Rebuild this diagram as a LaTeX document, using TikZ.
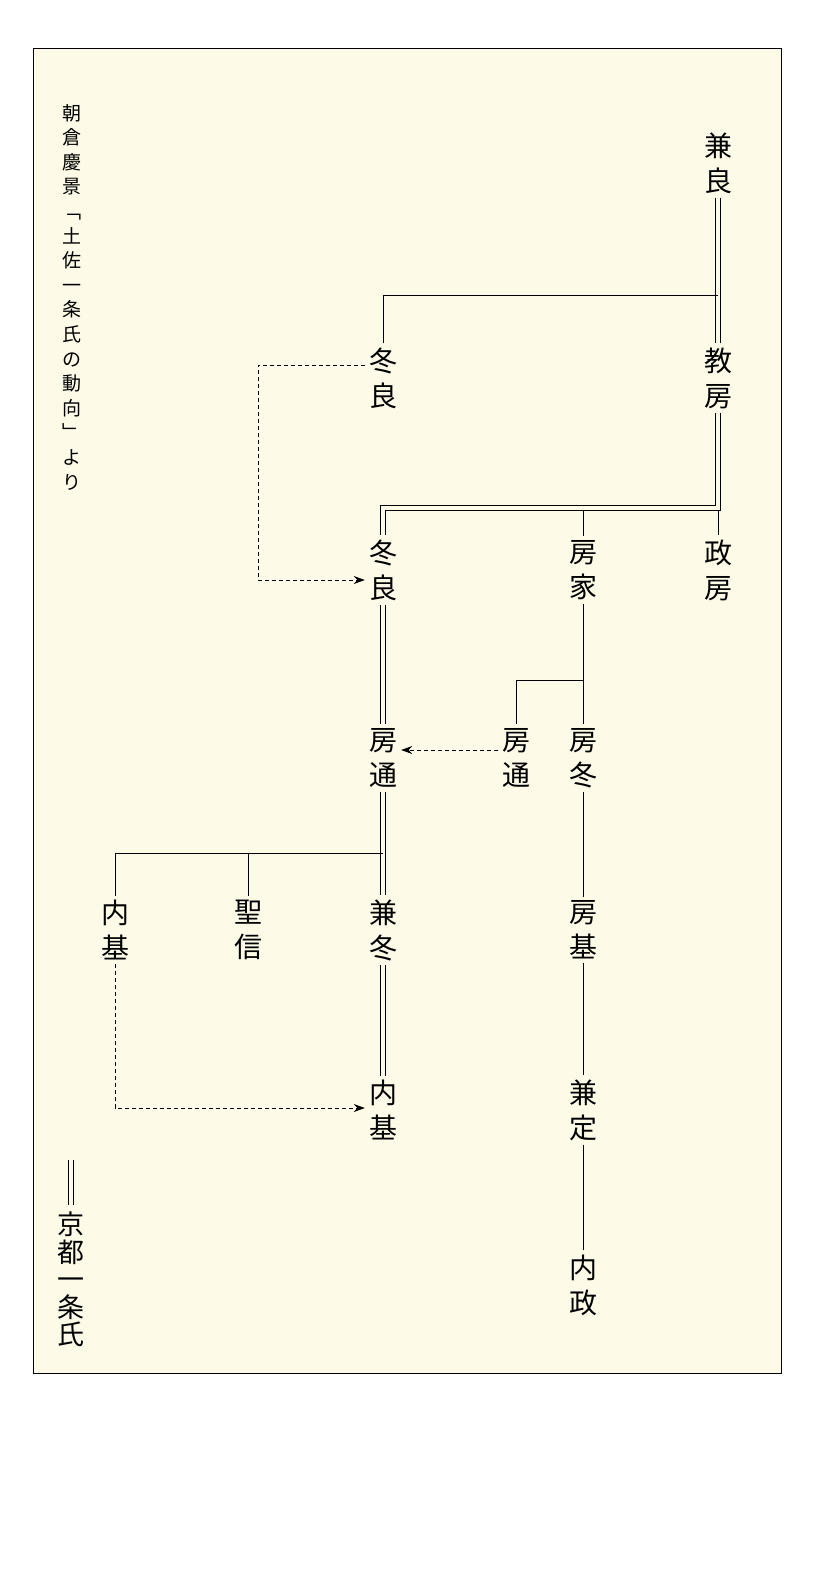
\documentclass[tikz,border=0pt]{standalone}
\usepackage{fontspec}
\setmainfont{Noto Sans CJK JP}
\usetikzlibrary{arrows.meta}
\definecolor{paper}{RGB}{253,251,231}
\tikzset{
  person/.style={inner sep=4pt, align=center, font=\fontsize{28}{35}\selectfont},
  srcnote/.style={inner sep=0pt, align=center, font=\fontsize{19}{24.6}\selectfont},
  dbl/.style={draw=black, line width=0.8pt, double=paper, double distance=3.5pt},
  sgl/.style={draw=black, line width=0.9pt},
  adop/.style={draw=black, line width=0.8pt, dash pattern=on 4pt off 3pt, -{Stealth[length=11pt,width=8pt]}}
}
\begin{document}
\begin{tikzpicture}[x=1pt,y=-1pt]
	\useasboundingbox (0,0) rectangle (832,1585);
	%frame
	\draw[fill=paper, line width=0.8pt] (33,48) rectangle (781,1373);
	%source
	\node[srcnote, anchor=north] (src) at (72,104) {朝\\倉\\慶\\景\\﹁\\土\\佐\\一\\条\\氏\\の\\動\\向\\﹂\\よ\\り};
	%people
	\node[person] (kaneyoshi) at (718,163) {兼\\良};
	\node[person] (norifusa) at (718,378) {教\\房};
	\node[person] (fuyuyoshiA) at (383,378) {冬\\良};
	\node[person] (fuyuyoshiB) at (383,570) {冬\\良};
	\node[person] (fusaie) at (583,570) {房\\家};
	\node[person] (masafusa) at (718,570) {政\\房};
	\node[person] (fusamichiA) at (383,758) {房\\通};
	\node[person] (fusamichiB) at (516,758) {房\\通};
	\node[person] (fusafuyu) at (583,758) {房\\冬};
	\node[person] (motonoriA) at (115,930) {内\\基};
	\node[person] (shoshin) at (248,930) {聖\\信};
	\node[person] (kanefuyu) at (383,930) {兼\\冬};
	\node[person] (fusamoto) at (583,930) {房\\基};
	\node[person] (motonoriB) at (383,1110) {内\\基};
	\node[person] (kanesada) at (583,1110) {兼\\定};
	\node[person] (tadamasa) at (583,1285) {内\\政};
	%junctions
	\coordinate (j1) at (718,295);
	\coordinate (j2) at (718,508);
	\coordinate (j3) at (583,680);
	\coordinate (j4) at (383,853);
	\coordinate (d1) at (258,365);
	\coordinate (d2) at (258,580);
	\coordinate (d3) at (115,1108);
	%lines
	\draw[dbl] (kaneyoshi) -- (norifusa);
	\draw[sgl] (j1) -| (fuyuyoshiA);
	\draw[sgl] (masafusa.north |- j2) -- (masafusa);
	\draw[sgl] (fusaie.north |- j2) -- (fusaie);
	\draw[dbl] (norifusa) -- (j2) -| (fuyuyoshiB);
	\draw[dbl] (fuyuyoshiB) -- (fusamichiA);
	\draw[sgl] (fusaie) -- (fusafuyu);
	\draw[sgl] (j3) -| (fusamichiB);
	\draw[dbl] (fusamichiA) -- (kanefuyu);
	\draw[sgl] (j4) -| (motonoriA);
	\draw[sgl] (shoshin.north |- j4) -- (shoshin);
	\draw[dbl] (kanefuyu) -- (motonoriB);
	\draw[sgl] (fusafuyu) -- (fusamoto);
	\draw[sgl] (fusamoto) -- (kanesada);
	\draw[sgl] (kanesada) -- (tadamasa);
	%adoptions
	\draw[adop] (fuyuyoshiA.west |- d1) -- (d1) |- (fuyuyoshiB.west |- d2);
	\draw[adop] (fusamichiB.west |- 0,750) -- (fusamichiA.east |- 0,750);
	\draw[adop] (motonoriA) -- (d3) -- (motonoriB.west |- d3);
	%legend
	\coordinate (l1) at (71,1160);
	\coordinate (l2) at (71,1205);
	\draw[dbl, double distance=4pt] (l1) -- (l2);
	\node[person, anchor=north, inner sep=0pt, font=\fontsize{27}{27.5}\selectfont] (legend) at (71,1212) {京\\都\\一\\条\\氏};
\end{tikzpicture}
\end{document}
